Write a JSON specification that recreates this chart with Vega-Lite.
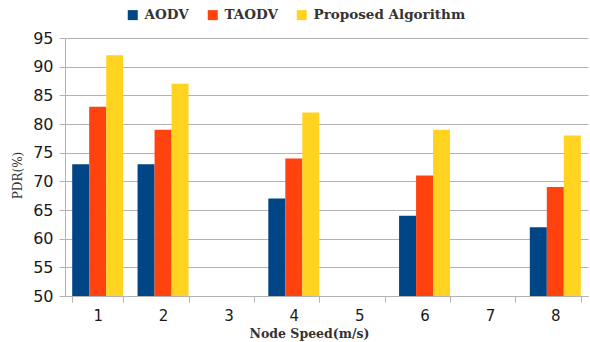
{
  "$schema": "https://vega.github.io/schema/vega-lite/v6.json",
  "width": 523,
  "height": 258,
  "autosize": {"type": "none"},
  "padding": {"left": 65, "top": 38, "right": 2, "bottom": 46},
  "background": "white",
  "data": {
    "values": [
      {"speed": 1, "series": "AODV", "pdr": 73},
      {"speed": 1, "series": "TAODV", "pdr": 83},
      {"speed": 1, "series": "Proposed Algorithm", "pdr": 92},
      {"speed": 2, "series": "AODV", "pdr": 73},
      {"speed": 2, "series": "TAODV", "pdr": 79},
      {"speed": 2, "series": "Proposed Algorithm", "pdr": 87},
      {"speed": 4, "series": "AODV", "pdr": 67},
      {"speed": 4, "series": "TAODV", "pdr": 74},
      {"speed": 4, "series": "Proposed Algorithm", "pdr": 82},
      {"speed": 6, "series": "AODV", "pdr": 64},
      {"speed": 6, "series": "TAODV", "pdr": 71},
      {"speed": 6, "series": "Proposed Algorithm", "pdr": 79},
      {"speed": 8, "series": "AODV", "pdr": 62},
      {"speed": 8, "series": "TAODV", "pdr": 69},
      {"speed": 8, "series": "Proposed Algorithm", "pdr": 78}
    ]
  },
  "mark": {"type": "bar", "clip": true},
  "encoding": {
    "x": {
      "field": "speed",
      "type": "ordinal",
      "scale": {"domain": [1, 2, 3, 4, 5, 6, 7, 8], "paddingInner": 0.22, "paddingOuter": 0.11},
      "axis": {
        "title": "Node Speed(m/s)",
        "titleFont": "DejaVu Serif",
        "titleFontWeight": "bold",
        "titleFontSize": 12.5,
        "titleColor": "#333333",
        "titleX": 244,
        "titleY": 37,
        "titleAlign": "center",
        "titleBaseline": "middle",
        "labelAngle": 0,
        "labelFont": "DejaVu Sans",
        "labelFontSize": 15,
        "labelColor": "#1a1a1a",
        "labelPadding": 6,
        "tickBand": "extent",
        "tickColor": "#b3b3b3",
        "tickSize": 6,
        "domainColor": "#b3b3b3",
        "grid": false
      }
    },
    "xOffset": {
      "field": "series",
      "type": "nominal",
      "sort": ["AODV", "TAODV", "Proposed Algorithm"],
      "scale": {"paddingInner": 0, "paddingOuter": 0}
    },
    "y": {
      "field": "pdr",
      "type": "quantitative",
      "scale": {"domain": [50, 95], "nice": false, "zero": false},
      "axis": {
        "title": "PDR(%)",
        "titleFont": "DejaVu Serif",
        "titleFontWeight": "normal",
        "titleFontSize": 12,
        "titleColor": "#333333",
        "titleX": -48,
        "titleY": 137,
        "titleAngle": -90,
        "titleAlign": "center",
        "titleBaseline": "middle",
        "values": [50, 55, 60, 65, 70, 75, 80, 85, 90, 95],
        "labelFont": "DejaVu Sans",
        "labelFontSize": 16,
        "labelColor": "#1a1a1a",
        "labelPadding": 6,
        "tickColor": "#b3b3b3",
        "tickSize": 6,
        "domainColor": "#b3b3b3",
        "gridColor": "#b3b3b3",
        "grid": true
      }
    },
    "color": {
      "field": "series",
      "type": "nominal",
      "sort": ["AODV", "TAODV", "Proposed Algorithm"],
      "scale": {"domain": ["AODV", "TAODV", "Proposed Algorithm"], "range": ["#004586", "#ff420e", "#ffd320"]},
      "legend": {
        "title": null,
        "orient": "none",
        "direction": "horizontal",
        "legendX": 61,
        "legendY": -30,
        "symbolType": "square",
        "symbolSize": 100,
        "symbolStrokeWidth": 0,
        "labelFont": "DejaVu Serif",
        "labelFontWeight": "bold",
        "labelFontSize": 13.5,
        "labelColor": "#333333",
        "labelOffset": 5,
        "columnPadding": 17
      }
    }
  },
  "config": {"view": {"stroke": null}}
}
